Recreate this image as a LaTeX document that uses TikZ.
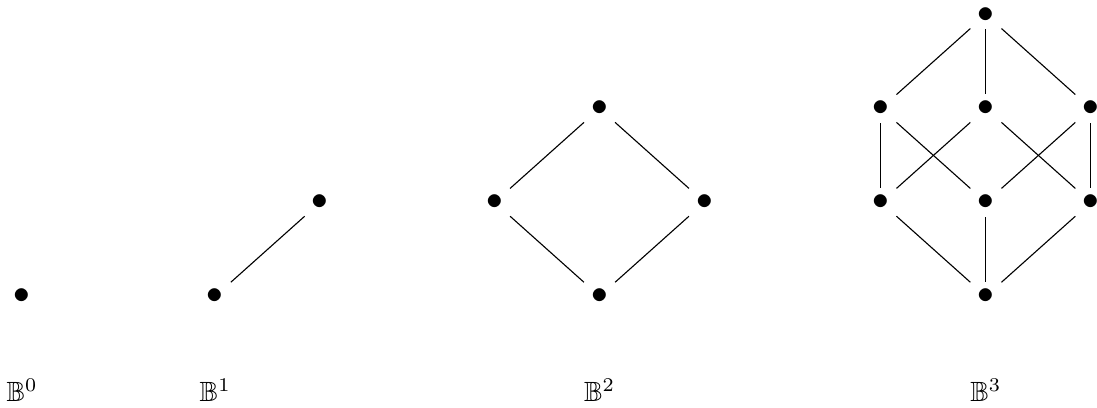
\documentclass[tikz,border=0pt]{standalone}
\usepackage{amssymb}
\begin{document}
\begin{tikzpicture}[
        x=1.328cm, y=1.187cm,
        elt/.style={font=\large, inner sep=2.4pt},
        lbl/.style={inner sep=.3333em}
    ]
    \useasboundingbox (-0.21,-1.185) rectangle (10.238,3.156);
    % B^0
    \node[elt] (z) at (0,0) {$\bullet$};
    \node[lbl] (lz) at (0,-1) {$\mathbb{B}^0$};
    % B^1
    \node[elt] (a0) at (1.84,0) {$\bullet$};
    \node[elt] (a1) at (2.84,1) {$\bullet$};
    \node[lbl] (la) at (1.84,-1) {$\mathbb{B}^1$};
    \draw (a0) -- (a1);
    % B^2
    \node[elt] (b00) at (5.5,0) {$\bullet$};
    \node[elt] (b10) at (4.5,1) {$\bullet$};
    \node[elt] (b01) at (6.5,1) {$\bullet$};
    \node[elt] (b11) at (5.5,2) {$\bullet$};
    \node[lbl] (lb) at (5.5,-1) {$\mathbb{B}^2$};
    \foreach \u/\v in {b00/b10, b00/b01, b10/b11, b01/b11}
        \draw (\u) -- (\v);
    % B^3
    \node[elt] (c000) at (9.18,0) {$\bullet$};
    \node[elt] (c100) at (8.18,1) {$\bullet$};
    \node[elt] (c010) at (9.18,1) {$\bullet$};
    \node[elt] (c001) at (10.18,1) {$\bullet$};
    \node[elt] (c110) at (8.18,2) {$\bullet$};
    \node[elt] (c101) at (9.18,2) {$\bullet$};
    \node[elt] (c011) at (10.18,2) {$\bullet$};
    \node[elt] (c111) at (9.18,3) {$\bullet$};
    \node[lbl] (lc) at (9.18,-1) {$\mathbb{B}^3$};
    \foreach \u/\v in {c000/c100, c000/c010, c000/c001,
                       c100/c110, c100/c101, c010/c110, c010/c011,
                       c001/c101, c001/c011,
                       c110/c111, c101/c111, c011/c111}
        \draw (\u) -- (\v);
\end{tikzpicture}
\end{document}
